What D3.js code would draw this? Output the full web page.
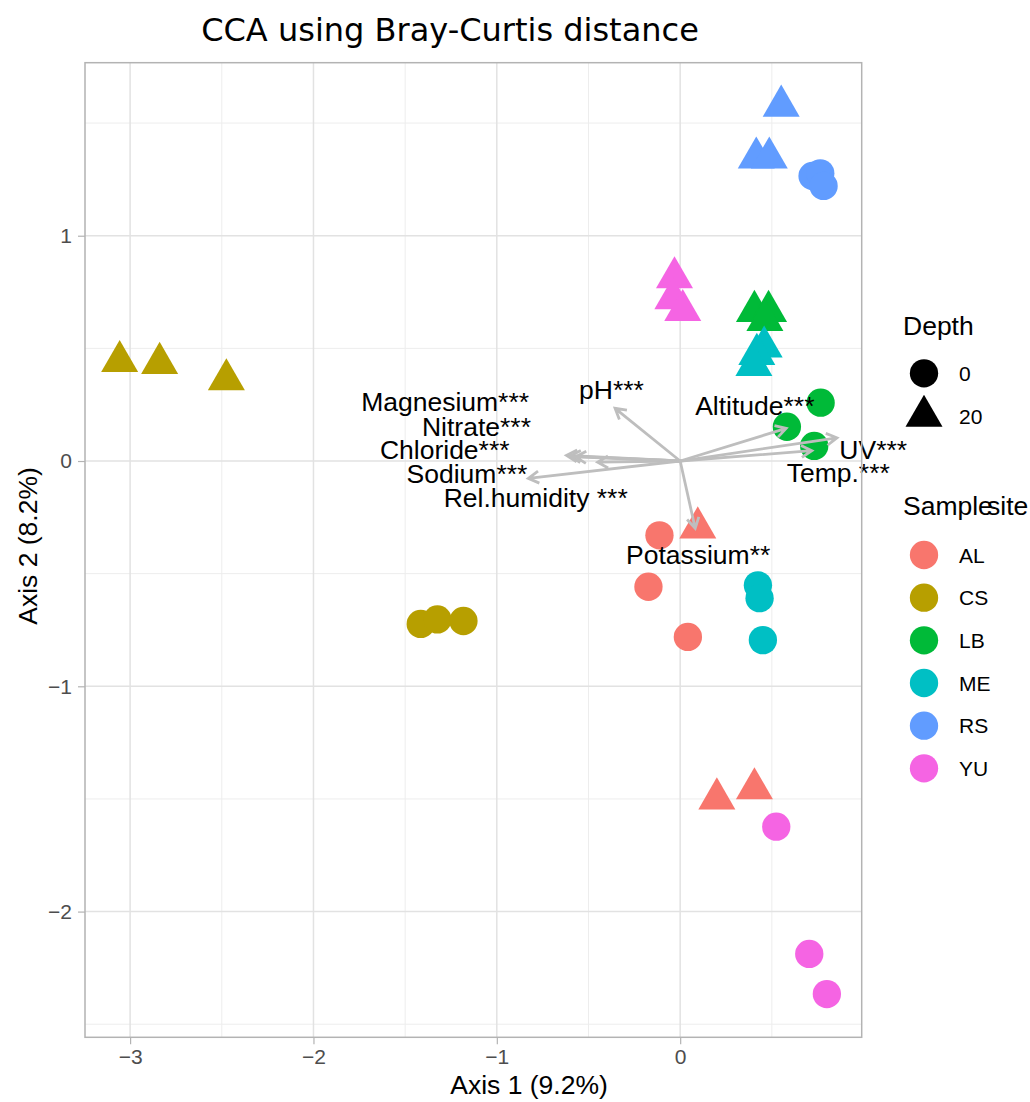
<!DOCTYPE html>
<html lang="en">
<head>
    <meta charset="UTF-8">
    <title>CCA using Bray-Curtis distance</title>
    <style>
        body {
            margin: 0;
            padding: 0;
            background-color: #ffffff;
            font-family: "Liberation Sans", Arial, sans-serif;
        }
        #chart svg {
            display: block;
        }
    </style>
</head>
<body>

<div id="chart"></div>

<script src="https://d3js.org/d3.v7.min.js"></script>
<script>
    // Sites and their colours (ggplot default hue palette)
    const sites = ["AL", "CS", "LB", "ME", "RS", "YU"];
    const siteColors = ["#F8766D", "#B79F00", "#00BA38", "#00BFC4", "#619CFF", "#F564E3"];
    const depths = ["0", "20"];

    // Sample scores, in site order
    const pointSite = [
        "AL", "AL", "AL", "AL", "AL", "AL",
        "CS", "CS", "CS", "CS", "CS", "CS",
        "LB", "LB", "LB", "LB", "LB", "LB",
        "ME", "ME", "ME", "ME", "ME", "ME",
        "RS", "RS", "RS", "RS", "RS", "RS",
        "YU", "YU", "YU", "YU", "YU", "YU"
    ];
    const pointDepth = [
        "0", "0", "0", "20", "20", "20",
        "0", "0", "0", "20", "20", "20",
        "0", "0", "0", "20", "20", "20",
        "0", "0", "0", "20", "20", "20",
        "0", "0", "0", "20", "20", "20",
        "0", "0", "0", "20", "20", "20"
    ];
    const axis1 = [
        -0.113, -0.173, 0.042, 0.096, 0.200, 0.405,
        -1.415, -1.324, -1.182, -3.057, -2.839, -2.475,
        0.766, 0.582, 0.731, 0.405, 0.482, 0.462,
        0.424, 0.433, 0.451, 0.458, 0.418, 0.402,
        0.722, 0.764, 0.782, 0.551, 0.415, 0.486,
        0.524, 0.704, 0.800, -0.031, -0.040, 0.014
    ];
    const axis2 = [
        -0.330, -0.558, -0.781, -0.296, -1.499, -1.454,
        -0.723, -0.703, -0.710, 0.442, 0.434, 0.361,
        0.259, 0.152, 0.067, 0.665, 0.665, 0.625,
        -0.552, -0.609, -0.795, 0.507, 0.474, 0.425,
        1.265, 1.277, 1.221, 1.576, 1.346, 1.346,
        -1.623, -2.188, -2.366, 0.814, 0.721, 0.669
    ];

    // Environmental vectors: arrow tips and label positions
    const envNames = ["Magnesium***", "Nitrate***", "Chloride***", "Sodium***", "Rel.humidity ***",
                      "pH***", "Altitude***", "UV***", "Temp.***", "Potassium**"];
    const envX = [-0.620, -0.600, -0.570, -0.450, -0.828, -0.355, 0.578, 0.855, 0.718, 0.082];
    const envY = [0.025, 0.022, 0.018, -0.005, -0.077, 0.234, 0.145, 0.103, 0.046, -0.299];
    const labelX = [-1.282, -1.111, -1.284, -1.163, -0.788, -0.375, 0.407, 1.053, 0.862, 0.098];
    const labelY = [0.266, 0.155, 0.050, -0.055, -0.164, 0.316, 0.245, 0.053, -0.053, -0.413];

    // Axis ticks
    const xMajor = [-3, -2, -1, 0];
    const xMinor = [-2.5, -1.5, -0.5, 0.5];
    const yMajor = [-2, -1, 0, 1];
    const yMinor = [-2.5, -1.5, -0.5, 0.5, 1.5];

    const width = 1030, height = 1102;
    const panel = { left: 85, right: 861.7, top: 62.7, bottom: 1037.3 };

    const svg = d3.select("#chart").append("svg")
        .attr("width", width)
        .attr("height", height);

    const x = d3.scaleLinear().domain([-3.246, 0.99]).range([panel.left, panel.right]);
    const y = d3.scaleLinear().domain([-2.558, 1.768]).range([panel.bottom, panel.top]);
    const color = d3.scaleOrdinal().domain(sites).range(siteColors);
    const shape = d3.scaleOrdinal().domain(depths).range([
        d3.symbol().type(d3.symbolCircle).size(630)(),
        d3.symbol().type(d3.symbolTriangle).size(593)()
    ]);

    // Grid lines
    const grid = svg.append("g");
    grid.selectAll(".xminor").data(xMinor).enter().append("line")
        .attr("x1", d => x(d)).attr("x2", d => x(d))
        .attr("y1", panel.top).attr("y2", panel.bottom)
        .attr("stroke", "#EDEDED").attr("stroke-width", 1);
    grid.selectAll(".yminor").data(yMinor).enter().append("line")
        .attr("y1", d => y(d)).attr("y2", d => y(d))
        .attr("x1", panel.left).attr("x2", panel.right)
        .attr("stroke", "#EDEDED").attr("stroke-width", 1);
    grid.selectAll(".xmajor").data(xMajor).enter().append("line")
        .attr("x1", d => x(d)).attr("x2", d => x(d))
        .attr("y1", panel.top).attr("y2", panel.bottom)
        .attr("stroke", "#E2E2E2").attr("stroke-width", 1.5);
    grid.selectAll(".ymajor").data(yMajor).enter().append("line")
        .attr("y1", d => y(d)).attr("y2", d => y(d))
        .attr("x1", panel.left).attr("x2", panel.right)
        .attr("stroke", "#E2E2E2").attr("stroke-width", 1.5);

    // Axes
    const fmt = d => d < 0 ? "\u2212" + Math.abs(d) : String(d);
    const xAxis = svg.append("g")
        .attr("transform", `translate(0,${panel.bottom})`)
        .call(d3.axisBottom(x).tickValues(xMajor).tickFormat(fmt).tickSize(7).tickPadding(5));
    const yAxis = svg.append("g")
        .attr("transform", `translate(${panel.left},0)`)
        .call(d3.axisLeft(y).tickValues(yMajor).tickFormat(fmt).tickSize(7).tickPadding(6));
    [xAxis, yAxis].forEach(a => {
        a.select(".domain").remove();
        a.selectAll(".tick line").attr("stroke", "#B3B3B3").attr("stroke-width", 1.2);
        a.selectAll(".tick text")
            .attr("fill", "#4D4D4D")
            .style("font-family", "'Liberation Sans', Arial, sans-serif")
            .style("font-size", "21px");
    });

    // Points
    const pts = axis1.map((v, i) => ({ a1: v, a2: axis2[i], site: pointSite[i], depth: pointDepth[i] }));
    svg.append("g").selectAll("path")
        .data(pts)
        .enter().append("path")
        .attr("d", d => shape(d.depth))
        .attr("transform", d => `translate(${x(d.a1)},${y(d.a2)})`)
        .attr("fill", d => color(d.site));

    // Arrows
    const env = envNames.map((n, i) => ({ name: n, ex: envX[i], ey: envY[i], lx: labelX[i], ly: labelY[i] }));
    const headLen = 12, headAng = Math.PI / 6;
    svg.append("g").selectAll("path")
        .data(env)
        .enter().append("path")
        .attr("d", d => {
            const x0 = x(0), y0 = y(0), x1 = x(d.ex), y1 = y(d.ey);
            const ang = Math.atan2(y1 - y0, x1 - x0);
            const p = d3.path();
            p.moveTo(x0, y0);
            p.lineTo(x1, y1);
            p.moveTo(x1 - headLen * Math.cos(ang - headAng), y1 - headLen * Math.sin(ang - headAng));
            p.lineTo(x1, y1);
            p.lineTo(x1 - headLen * Math.cos(ang + headAng), y1 - headLen * Math.sin(ang + headAng));
            return p.toString();
        })
        .attr("fill", "none")
        .attr("stroke", "#BEBEBE")
        .attr("stroke-width", 2.8);

    svg.append("g").selectAll("text")
        .data(env)
        .enter().append("text")
        .attr("x", d => x(d.lx))
        .attr("y", d => y(d.ly))
        .attr("dy", "0.36em")
        .attr("text-anchor", "middle")
        .style("font-size", "26.5px")
        .attr("fill", "#000")
        .text(d => d.name);

    // Panel border
    svg.append("rect")
        .attr("x", panel.left).attr("y", panel.top)
        .attr("width", panel.right - panel.left)
        .attr("height", panel.bottom - panel.top)
        .attr("fill", "none")
        .attr("stroke", "#B3B3B3")
        .attr("stroke-width", 1.5);

    // Titles
    svg.append("text")
        .attr("x", 450).attr("y", 41)
        .attr("text-anchor", "middle")
        .style("font-family", "'DejaVu Sans', sans-serif")
        .style("font-size", "32px")
        .text("CCA using Bray-Curtis distance");

    svg.append("text")
        .attr("x", 529).attr("y", 1094)
        .attr("text-anchor", "middle")
        .style("font-size", "26.5px")
        .text("Axis 1 (9.2%)");

    svg.append("text")
        .attr("transform", "translate(37,546) rotate(-90)")
        .attr("text-anchor", "middle")
        .style("font-size", "26.5px")
        .text("Axis 2 (8.2%)");

    // Legend: Depth
    const legend = svg.append("g");
    legend.append("text")
        .attr("x", 903).attr("y", 335)
        .style("font-size", "26.5px")
        .text("Depth");
    const depthY = d3.scalePoint().domain(depths).range([373.3, 416]);
    legend.selectAll(".dkey").data(depths).enter().append("path")
        .attr("d", d => shape(d))
        .attr("transform", d => `translate(924,${depthY(d)})`)
        .attr("fill", "#000");
    legend.selectAll(".dlab").data(depths).enter().append("text")
        .attr("x", 959).attr("y", d => depthY(d))
        .attr("dy", "0.36em")
        .style("font-size", "21px")
        .text(d => d);

    // Legend: Sample site (title glyphs overlap in the original)
    legend.append("text")
        .attr("x", 903).attr("y", 515)
        .style("font-size", "26.5px")
        .text("Sample");
    legend.append("text")
        .attr("x", 987).attr("y", 515)
        .style("font-size", "26.5px")
        .text("site");
    const siteY = d3.scalePoint().domain(sites).range([555, 768.3]);
    legend.selectAll(".skey").data(sites).enter().append("path")
        .attr("d", shape("0"))
        .attr("transform", d => `translate(924,${siteY(d)})`)
        .attr("fill", d => color(d));
    legend.selectAll(".slab").data(sites).enter().append("text")
        .attr("x", 959).attr("y", d => siteY(d))
        .attr("dy", "0.36em")
        .style("font-size", "21px")
        .text(d => d);
</script>

</body>
</html>
